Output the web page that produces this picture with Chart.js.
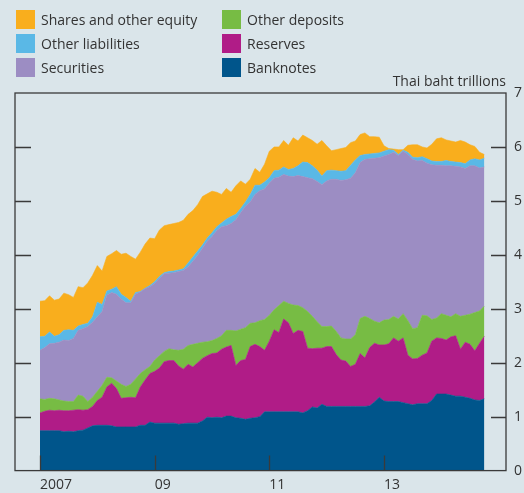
<!DOCTYPE html>
<html>
<head>
<meta charset="utf-8">
<script src="https://cdn.jsdelivr.net/npm/chart.js@4/dist/chart.umd.min.js"></script>
<style>
  html, body { margin: 0; padding: 0; background: #dae5ea; }
  #wrap { position: relative; width: 524px; height: 493px; font-family: 'Open Sans', sans-serif; color: #333; }
  #chart { position: absolute; left: 0; top: 0; }
  .legend { position: absolute; left: 16px; top: 10px; display: grid; grid-template-columns: 206px auto;
            grid-template-rows: repeat(3, 19px); grid-auto-flow: column; row-gap: 5px; font-size: 14px; }
  .legend-item { display: flex; align-items: center; height: 19px; white-space: nowrap; }
  .legend-swatch { width: 19px; height: 19px; margin-right: 6px; flex: none; }
  .unit { position: absolute; right: 18px; top: 71px; font-size: 14px; line-height: 19px; }
</style>
</head>
<body>
<div id="wrap">
  <canvas id="chart" width="524" height="493"></canvas>
  <div class="legend" id="legend"></div>
  <div class="unit">Thai baht trillions</div>
</div>
<script>
/* ---- DATA (monthly, Jan 2007 onwards, THB trillions) ---- */
const banknotes = [.74,.74,.74,.74,.74,.72,.73,.72,.74,.75, .79,.83,.84,.84,.84,.83,.81,.81,.81,.81,
  .81,.84,.84,.90,.88,.88,.88,.88,.88,.86, .87,.88,.88,.88,.92,.99,.98,.99,.98,1.01,
  1.01,.98,.97,.95,.97,.98,1.00,1.09,1.09,1.09, 1.09,1.09,1.09,1.09,1.09,1.07,1.11,1.18,1.16,1.23,
  1.19,1.19,1.19,1.19,1.19,1.19,1.19,1.19,1.19,1.20, 1.27,1.36,1.29,1.28,1.28,1.28,1.26,1.24,1.22,1.24,
  1.24,1.24,1.30,1.42,1.42,1.42,1.40,1.38,1.38,1.36, 1.34,1.31,1.30,1.33];
const reserves = [.33,.36,.38,.37,.38,.39,.38,.40,.39,.37, .34,.36,.46,.52,.71,.79,.71,.53,.54,.55,
  .54,.71,.84,.90,.96,1.02,1.14,1.16,1.16,1.08, 1.01,1.09,1.04,1.12,1.16,1.14,1.19,1.19,1.27,1.28,
  1.31,.97,1.07,1.11,1.33,1.36,1.30,1.14,1.31,1.52, 1.47,1.72,1.65,1.45,1.51,1.51,1.16,1.08,1.11,1.04,
  1.11,1.11,.96,.86,.84,.74,.78,.98,.90,1.08, 1.09,.97,1.04,1.07,1.18,1.12,1.20,.90,.85,.84,
  .90,.94,1.10,1.04,1.03,1.00,1.08,1.12,.87,1.02, 1.00,.91,1.06,1.16];
const otherDeposits = [.26,.22,.22,.22,.19,.18,.17,.16,.27,.26, .15,.17,.17,.22,.18,.10,.14,.26,.21,.24,
  .35,.25,.19,.13,.21,.23,.19,.22,.20,.29, .37,.35,.42,.36,.30,.26,.24,.27,.25,.31,
  .28,.64,.58,.59,.43,.40,.48,.57,.48,.37, .50,.33,.36,.53,.46,.44,.68,.60,.49,.40,
  .37,.38,.43,.41,.41,.51,.55,.65,.77,.54, .41,.41,.46,.45,.40,.41,.45,.64,.56,.57,
  .74,.69,.40,.37,.46,.46,.37,.41,.61,.50, .56,.71,.60,.56];
const securities = [.90,.96,1.01,1.03,1.07,1.13,1.13,1.17,1.20,1.25, 1.39,1.39,1.38,1.37,1.52,1.58,1.61,1.58,1.55,1.51,
  1.57,1.51,1.50,1.48,1.42,1.43,1.44,1.40,1.43,1.46, 1.46,1.46,1.54,1.63,1.74,1.86,1.93,2.00,2.02,1.94,
  1.98,2.06,2.16,2.25,2.25,2.38,2.41,2.42,2.45,2.44, 2.38,2.35,2.36,2.38,2.41,2.43,2.48,2.55,2.60,2.63,
  2.70,2.72,2.82,2.92,2.95,2.98,3.00,2.89,2.91,2.96, 3.02,3.06,3.04,3.06,3.04,3.03,3.01,3.08,3.14,3.09,
  2.87,2.83,2.87,2.83,2.75,2.77,2.80,2.73,2.77,2.72, 2.75,2.72,2.65,2.58];
const otherLiabilities = [.25,.21,.22,.13,.14,.18,.20,.15,.08,.08, .06,.10,.27,.13,.08,.06,.14,.09,.10,.03,
  .03,.01,.01,.02,.03,.04,.02,.03,.03,.03, .03,.07,.08,.08,.06,.06,.07,.07,.07,.12,
  .13,.10,.08,.08,.14,.17,.10,.13,.10,.14, .13,.14,.12,.15,.18,.27,.28,.24,.21,.16,
  .19,.17,.16,.17,.17,.24,.24,.13,.09,.09, .09,.09,.09,.09,.04,.02,.02,.04,.04,.06,
  .07,.08,.07,.07,.07,.10,.08,.08,.08,.09, .11,.13,.15,.16];
const sharesEquity = [.66,.66,.67,.67,.66,.69,.65,.61,.73,.68, .75,.77,.68,.62,.64,.66,.67,.74,.82,.83,
  .62,.73,.82,.88,.80,.86,.87,.87,.88,.88, .90,.90,.86,.86,.90,.82,.77,.64,.53,.57,
  .45,.53,.51,.33,.28,.31,.24,.33,.49,.44, .43,.49,.45,.57,.46,.50,.46,.47,.48,.66,
  .46,.36,.39,.42,.43,.42,.35,.39,.40,.32, .31,.29,.10,.02,.02,.09,.01,.13,.23,.24,
  .18,.20,.31,.42,.44,.38,.38,.37,.41,.40, .28,.23,.14,.07];

// stacking order, bottom to top
const seriesLabels = ['Banknotes','Reserves','Other deposits','Securities','Other liabilities','Shares and other equity'];
const seriesValues = [banknotes, reserves, otherDeposits, securities, otherLiabilities, sharesEquity];
const seriesColors = ['#00558b','#b01c87','#77bc44','#9c8dc3','#5ab8e6','#f9ae1d'];

// x ticks in months from Jan 2007
const xTickValues = [0, 24, 48, 72];
const xTickLabels = ['2007', '09', '11', '13'];
const yInnerTicks = [1, 2, 3, 4, 5, 6];

const TEXT = '#333';
const FONT = { family: "'Open Sans', sans-serif", size: 14 };

/* ---- LEGEND (two columns, top to bottom) ---- */
const legendOrder = [5, 4, 3, 2, 1, 0];
document.getElementById('legend').innerHTML = legendOrder.map(i =>
  `<div class="legend-item"><div class="legend-swatch" style="background:${seriesColors[i]};"></div>${seriesLabels[i]}</div>`
).join('');

/* ---- FRAME + INWARD TICKS ---- */
const framePlugin = {
  id: 'frame',
  afterDatasetsDraw(chart) {
    const { ctx, chartArea: a, scales: { x, y } } = chart;
    ctx.save();
    ctx.strokeStyle = '#3a3a3a';
    ctx.lineWidth = 1.3;
    ctx.strokeRect(a.left, a.top, a.right - a.left, a.bottom - a.top);
    ctx.beginPath();
    yInnerTicks.forEach(v => {
      const py = Math.round(y.getPixelForValue(v)) + 0.5;
      ctx.moveTo(a.left, py); ctx.lineTo(a.left + 16, py);
      ctx.moveTo(a.right - 15, py); ctx.lineTo(a.right, py);
    });
    xTickValues.forEach(v => {
      const px = Math.round(x.getPixelForValue(v)) + 0.5;
      ctx.moveTo(px, a.bottom); ctx.lineTo(px, a.bottom - 15);
    });
    ctx.stroke();
    ctx.restore();
  }
};

new Chart(document.getElementById('chart'), {
  type: 'line',
  data: {
    datasets: seriesValues.map((vals, i) => ({
      label: seriesLabels[i],
      data: vals.map((v, m) => ({ x: m, y: v })),
      backgroundColor: seriesColors[i],
      borderColor: seriesColors[i],
      borderWidth: 0.6,
      pointRadius: 0,
      tension: 0,
      fill: i === 0 ? 'origin' : '-1'
    }))
  },
  options: {
    responsive: false, animation: false,
    layout: { padding: { left: 15, top: 93, right: 0, bottom: 0 } },
    plugins: { legend: { display: false }, tooltip: { enabled: false } },
    scales: {
      x: {
        type: 'linear', min: -5.23, max: 97.53,
        grid: { display: false, drawTicks: false }, border: { display: false },
        afterBuildTicks: s => { s.ticks = xTickValues.map(v => ({ value: v })); },
        afterFit: s => { s.height = 22.4; },
        ticks: { align: 'start', autoSkip: false, maxRotation: 0, padding: 6, color: TEXT, font: FONT,
                 callback: (v, i) => xTickLabels[i] }
      },
      y: {
        position: 'right', stacked: true, min: 0, max: 7,
        grid: { display: false, drawTicks: false }, border: { display: false },
        afterFit: s => { s.width = 18; },
        ticks: { stepSize: 1, padding: 8, color: TEXT, font: FONT }
      }
    }
  },
  plugins: [framePlugin]
});
</script>
</body>
</html>
